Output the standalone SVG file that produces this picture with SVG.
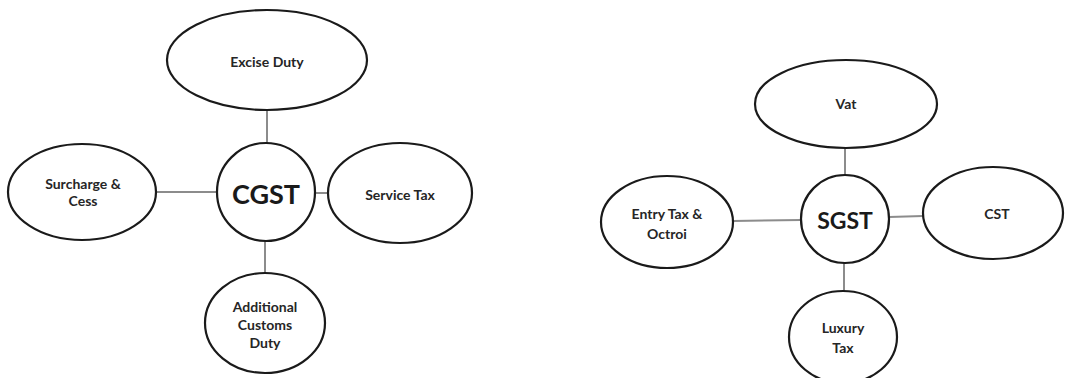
<svg xmlns="http://www.w3.org/2000/svg" width="1067" height="378" viewBox="0 0 1067 378">
  <style>
    .shape { fill: #fff; stroke: #1a1a1a; stroke-width: 2.2; }
    .link { stroke: #8c8c8c; stroke-width: 2; fill: none; }
    .lbl { font-family: Lato, "Open Sans", sans-serif; font-weight: bold; fill: #262626; text-anchor: middle; dominant-baseline: central; font-size: 14px; }
    .hub { font-size: 27px; fill: #1a1a1a; }
    .hub2 { font-size: 23px; fill: #1a1a1a; }
  </style>
  <rect width="1067" height="378" fill="#fff"/>

  <!-- connectors -->
  <g id="connectors">
    <line class="link" x1="267" y1="111" x2="267" y2="143"/>
    <line class="link" x1="157" y1="192" x2="217" y2="192"/>
    <line class="link" x1="315" y1="193" x2="328" y2="193"/>
    <line class="link" x1="265" y1="241" x2="265" y2="274"/>
    <line class="link" x1="845" y1="148" x2="845" y2="176"/>
    <line class="link" x1="733" y1="221" x2="801" y2="220"/>
    <line class="link" x1="889" y1="217" x2="923" y2="216"/>
    <line class="link" x1="844" y1="263" x2="844" y2="292"/>
  </g>

  <!-- CGST cluster -->
  <g id="excise">
    <ellipse class="shape" cx="267" cy="60" rx="100" ry="50"/>
    <text class="lbl" x="267" y="61">Excise Duty</text>
  </g>
  <g id="cgst">
    <circle class="shape" cx="266" cy="192" r="49"/>
    <text class="lbl hub" x="266" y="193">CGST</text>
  </g>
  <g id="surcharge">
    <ellipse class="shape" cx="82" cy="192" rx="74" ry="48"/>
    <text class="lbl" x="83" y="183">Surcharge &amp;</text>
    <text class="lbl" x="83" y="200">Cess</text>
  </g>
  <g id="service">
    <ellipse class="shape" cx="400" cy="193" rx="72" ry="50"/>
    <text class="lbl" x="400" y="194">Service Tax</text>
  </g>
  <g id="customs">
    <ellipse class="shape" cx="265" cy="323" rx="60" ry="50"/>
    <text class="lbl" x="265" y="306">Additional</text>
    <text class="lbl" x="265" y="324">Customs</text>
    <text class="lbl" x="265" y="342">Duty</text>
  </g>

  <!-- SGST cluster -->
  <g id="vat">
    <ellipse class="shape" cx="846" cy="104" rx="91" ry="44"/>
    <text class="lbl" x="846" y="103">Vat</text>
  </g>
  <g id="sgst">
    <circle class="shape" cx="845" cy="219" r="44"/>
    <text class="lbl hub2" x="845" y="220">SGST</text>
  </g>
  <g id="entry">
    <ellipse class="shape" cx="667" cy="222" rx="66" ry="46"/>
    <text class="lbl" x="667" y="213">Entry Tax &amp;</text>
    <text class="lbl" x="667" y="233">Octroi</text>
  </g>
  <g id="cst">
    <ellipse class="shape" cx="993" cy="213" rx="70" ry="46"/>
    <text class="lbl" x="997" y="213">CST</text>
  </g>
  <g id="luxury">
    <ellipse class="shape" cx="843" cy="337" rx="54" ry="46"/>
    <text class="lbl" x="843" y="327">Luxury</text>
    <text class="lbl" x="843" y="347">Tax</text>
  </g>
</svg>
